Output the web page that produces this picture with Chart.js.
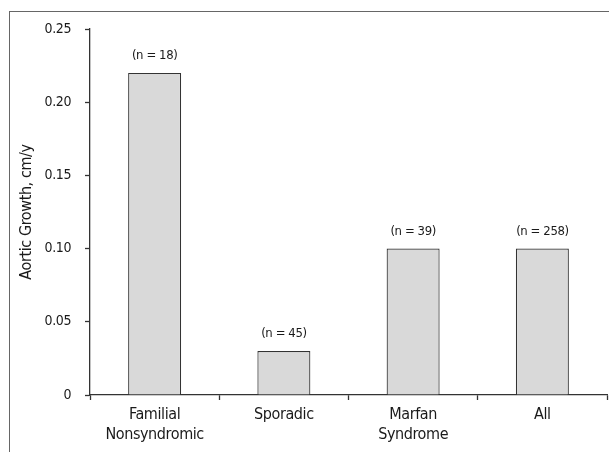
<!DOCTYPE html>
<html>
<head>
<meta charset="utf-8">
<script src="https://cdn.jsdelivr.net/npm/chart.js@4/dist/chart.umd.min.js"></script>
<style>
  html, body { margin: 0; padding: 0; background: #fff; }
  #wrap { position: relative; width: 609px; height: 452px; overflow: hidden; }
  #frame { position: absolute; left: 9px; top: 11px; width: 700px; height: 600px;
           border-left: 1.5px solid #666; border-top: 1.5px solid #666; box-sizing: border-box; }
  canvas { position: absolute; left: 0; top: 0; }
</style>
</head>
<body>
<div id="wrap">
  <div id="frame"></div>
  <canvas id="c" width="609" height="452"></canvas>
</div>
<script>
const categories = [["Familial", "Nonsyndromic"], "Sporadic", ["Marfan", "Syndrome"], "All"];
const growthValues = [0.22, 0.03, 0.10, 0.10];
const sampleLabels = ["(n = 18)", "(n = 45)", "(n = 39)", "(n = 258)"];
const yTickLabels = ["0", "0.05", "0.10", "0.15", "0.20", "0.25"];
const yAxisTitle = "Aortic Growth, cm/y";

const FONT = "'DejaVu Sans Condensed', 'Liberation Sans Narrow', sans-serif";
const INK = "#1a1a1a";

const tightText = {
  id: 'tightText',
  beforeDraw(chart) { chart.ctx.letterSpacing = '-0.4px'; }
};

const nLabelPlugin = {
  id: 'nLabels',
  afterDatasetsDraw(chart) {
    const ctx = chart.ctx;
    const meta = chart.getDatasetMeta(0);
    ctx.save();
    ctx.font = "13px " + FONT;
    ctx.fillStyle = INK;
    ctx.textAlign = 'center';
    ctx.textBaseline = 'middle';
    meta.data.forEach((bar, i) => {
      ctx.fillText(sampleLabels[i], bar.x, bar.y - 17);
    });
    ctx.restore();
  }
};

new Chart(document.getElementById('c'), {
  type: 'bar',
  data: {
    labels: categories,
    datasets: [{
      data: growthValues,
      backgroundColor: '#d9d9d9',
      borderColor: '#333',
      borderWidth: 1.2,
      categoryPercentage: 1.0,
      barPercentage: 0.41
    }]
  },
  options: {
    responsive: false,
    animation: false,
    devicePixelRatio: 1,
    layout: { padding: { left: 0, right: 2, top: 29, bottom: 0 } },
    plugins: { legend: { display: false }, tooltip: { enabled: false } },
    scales: {
      x: {
        afterFit(scale) { scale.height = 57; },
        border: { color: '#333', width: 1.3 },
        grid: {
          offset: true,
          drawOnChartArea: false,
          tickLength: 5,
          tickWidth: 1.3,
          color: (c) => (c.index === categories.length ? 'rgba(0,0,0,0)' : '#333')
        },
        ticks: {
          color: INK,
          font: { family: FONT, size: 16, lineHeight: 1.3 },
          padding: 4,
          maxRotation: 0,
          autoSkip: false
        }
      },
      y: {
        min: 0,
        max: 0.25,
        afterFit(scale) { scale.width = 90; },
        border: { color: '#333', width: 1.3 },
        grid: {
          drawOnChartArea: false,
          tickLength: 5,
          tickWidth: 1.3,
          color: '#333'
        },
        ticks: {
          stepSize: 0.05,
          color: INK,
          padding: 14,
          font: { family: FONT, size: 14 },
          callback: (v, i) => yTickLabels[i]
        },
        title: {
          display: true,
          text: yAxisTitle,
          color: INK,
          font: { family: FONT, size: 16 },
          padding: { top: 17, bottom: 0 }
        }
      }
    }
  },
  plugins: [tightText, nLabelPlugin]
});
</script>
</body>
</html>
